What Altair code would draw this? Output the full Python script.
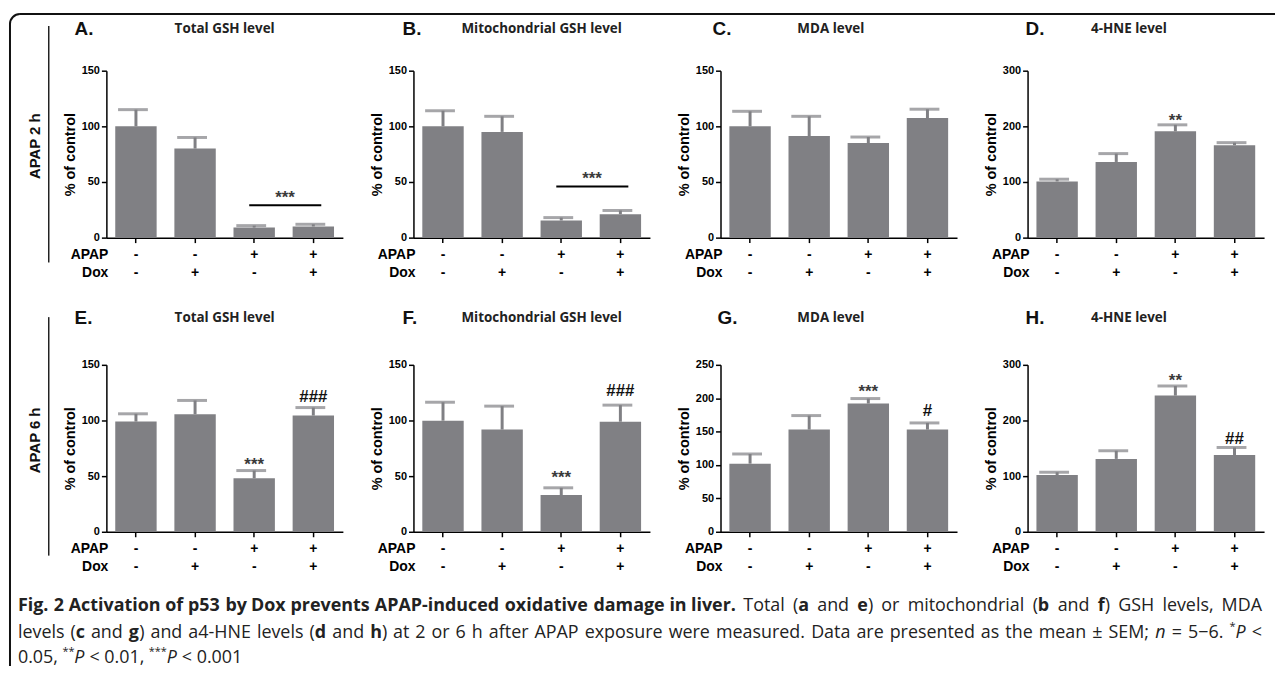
import altair as alt
import pandas as pd

# ---------------- data ----------------
groups = ["g1", "g2", "g3", "g4"]
apap_row = ["-", "-", "+", "+"]
dox_row = ["-", "+", "-", "+"]
factor_names = ["APAP", "Dox"]
row_labels = ["APAP 2 h", "APAP 6 h"]

letters = ["A.", "B.", "C.", "D.", "E.", "F.", "G.", "H."]
names = ["Total GSH level", "Mitochondrial GSH level", "MDA level", "4-HNE level",
         "Total GSH level", "Mitochondrial GSH level", "MDA level", "4-HNE level"]
y_max = [150, 150, 150, 300, 150, 150, 250, 300]
y_step = [50, 50, 50, 100, 50, 50, 50, 100]

mean_a = [100, 80, 9, 10]
top_a = [115, 90, 10.8, 12]
mean_b = [100, 95, 15.4, 21]
top_b = [114, 109, 18, 24.4]
mean_c = [100, 91.3, 85, 107.5]
top_c = [113.5, 109, 90.4, 115.4]
mean_d = [101, 136, 191, 166]
top_d = [105, 151, 202.7, 170.7]
mean_e = [99, 105.6, 48, 104.4]
top_e = [106, 118, 55, 111.6]
mean_f = [99.8, 91.8, 33, 98.9]
top_f = [116.4, 112.9, 39.5, 113.8]
mean_g = [102, 153, 192, 153]
top_g = [116.5, 174, 199.5, 163]
mean_h = [102, 131, 244.7, 138]
top_h = [107, 145.6, 262, 151.5]

means = [mean_a, mean_b, mean_c, mean_d, mean_e, mean_f, mean_g, mean_h]
tops = [top_a, top_b, top_c, top_d, top_e, top_f, top_g, top_h]

over_groups = [[], [], [], ["g3"], ["g3", "g4"], ["g3", "g4"], ["g3", "g4"], ["g3", "g4"]]
over_labels = [[], [], [], ["**"], ["***", "###"], ["***", "###"], ["***", "#"], ["**", "##"]]
over_pos = [[], [], [], [218], [64, 122], [52.7, 127], [216, 182.5], [280.6, 169]]
bracket_pos = [29, 46, None, None, None, None, None, None]
bracket_label_pos = [40, 57, None, None, None, None, None, None]

# caption text runs: (text, style)  b = bold, n = normal, i = italic, s = superscript
caption_heading = [("Fig. 2 Activation of p53 by Dox prevents APAP-induced oxidative damage in liver.", "b")]
caption_line1 = [("Total (", "n"), ("a", "b"), (" and ", "n"), ("e", "b"),
                 (") or mitochondrial (", "n"), ("b", "b"), (" and ", "n"), ("f", "b"),
                 (") GSH levels, MDA", "n")]
caption_line2 = [("levels (", "n"), ("c", "b"), (" and ", "n"), ("g", "b"),
                 (") and a4-HNE levels (", "n"), ("d", "b"), (" and ", "n"), ("h", "b"),
                 (") at 2 or 6 h after APAP exposure were measured. Data are presented as the mean \u00b1 SEM; ", "n"),
                 ("n", "i"), (" = 5\u22126. ", "n"), ("*", "s"), ("P", "i"), (" <", "n")]
caption_line3 = [("0.05, ", "n"), ("**", "s"), ("P", "i"), (" < 0.01, ", "n"),
                 ("***", "s"), ("P", "i"), (" < 0.001", "n")]

# ---------------- layout / style ----------------
W, H = 238, 168
BAR = "#808084"
FONT = "Liberation Sans"
TFONT = "Open Sans"
letter_dx = [-32, -11, -8, -2, -32, -11, -3, -2]
name_dx = [0, 10, -8, -17, 0, 10, -8, -17]
title_dy = [-42, -42, -42, -42, -47, -47, -47, -47]
sign_dy = [[186, 204], [185, 203]]
CAP_SIZE, SUP_SIZE = 18, 11
cap_line_y = [-53, -26, -1]

# approximate Open Sans advance widths (units per em = 2048)
ADV = {' ': 532, '(': 590, ')': 590, '*': 1120, ',': 502, '-': 659, '.': 545,
       ';': 545, '<': 1171, '=': 1171, '\u00b1': 1171, '\u2212': 1171,
       'A': 1296, 'D': 1493, 'F': 1057, 'G': 1491, 'H': 1511, 'M': 1849,
       'N': 1544, 'P': 1233, 'S': 1124, 'T': 1133, 'E': 1139,
       'a': 1139, 'b': 1255, 'c': 975, 'd': 1255, 'e': 1149, 'f': 694, 'g': 1122,
       'h': 1257, 'i': 518, 'j': 518, 'k': 1075, 'l': 518, 'm': 1905, 'n': 1257,
       'o': 1237, 'p': 1255, 'q': 1255, 'r': 836, 's': 977, 't': 723, 'u': 1257,
       'v': 1026, 'w': 1593, 'x': 1073, 'y': 1028, 'z': 977}
for _d in "0123456789":
    ADV[_d] = 1171
BOLD_EXTRA = {'i': 150, 't': 150, 'v': 150, 'l': 150, 'f': 120, 'r': 110,
              'a': 100, 'x': 110}


def text_width(t, style):
    size = SUP_SIZE if style == "s" else CAP_SIZE
    units = sum(ADV.get(c, 1100) for c in t)
    if style == "b":
        units += sum(BOLD_EXTRA.get(c, 80) for c in t)
    if style == "i":
        units *= 0.97
    return units / 2048 * size


def layout_line(runs, y, x0, x1, justify):
    items = []
    for text, style in runs:
        parts = text.split(" ")
        for k, part in enumerate(parts):
            if k > 0:
                items.append((" ", style, True))
            if part:
                items.append((part, style, False))
    nat = sum(text_width(" ", "n") if sp else text_width(t, st) for t, st, sp in items)
    nsp = sum(1 for it in items if it[2])
    extra = (x1 - x0 - nat) / nsp if (justify and nsp) else 0
    x, out = x0, []
    for t, st, sp in items:
        if sp:
            x += text_width(" ", "n") + extra
        else:
            out.append({"text": t, "style": st, "px": x,
                        "py": y - 6 if st == "s" else y})
            x += text_width(t, st)
    return out


def xenc(axis):
    return alt.X("group:N", sort=groups, title=None,
                 scale=alt.Scale(domain=groups, paddingInner=0.3, paddingOuter=0.15),
                 axis=axis)


def panel(i):
    r = i // 4
    df = pd.DataFrame({"group": groups, "mean": means[i], "top": tops[i]})
    yscale = alt.Scale(domain=[0, y_max[i]], nice=False)
    yaxis = alt.Axis(title="% of control",
                     values=list(range(0, y_max[i] + 1, y_step[i])))
    xaxis = alt.Axis(labels=False, title=None)
    base = alt.Chart(df)
    bars = base.mark_bar(color=BAR).encode(
        x=xenc(xaxis), y=alt.Y("mean:Q", scale=yscale, axis=yaxis))
    stems = base.mark_rule(color=BAR, strokeWidth=3).encode(
        x=xenc(xaxis), y=alt.Y("mean:Q", axis=yaxis), y2="top:Q")
    caps = base.mark_tick(color=BAR, thickness=3, size=30, xOffset=-3).encode(
        x=xenc(xaxis), y=alt.Y("top:Q", axis=yaxis))
    layers = [bars, stems, caps]

    if over_groups[i]:
        adf = pd.DataFrame({"group": over_groups[i], "label": over_labels[i],
                            "pos": over_pos[i]})
        stars = adf[adf["label"].str.contains(r"\*")]
        hashes = adf[adf["label"].str.contains("#")]
        if len(stars):
            layers.append(alt.Chart(stars).mark_text(
                font=FONT, fontSize=17, fontWeight="bold", color="#3a3a3a",
                baseline="middle", dy=5).encode(
                x=xenc(xaxis), y=alt.Y("pos:Q", axis=yaxis), text="label:N"))
        if len(hashes):
            layers.append(alt.Chart(hashes).mark_text(
                font=FONT, fontSize=17, fontWeight="bold", color="#111",
                baseline="middle", dy=1).encode(
                x=xenc(xaxis), y=alt.Y("pos:Q", axis=yaxis), text="label:N"))

    if bracket_pos[i] is not None:
        bdf = pd.DataFrame({"group": ["g3"], "group2": ["g4"],
                            "pos": [bracket_pos[i]], "lpos": [bracket_label_pos[i]],
                            "label": ["***"]})
        layers.append(alt.Chart(bdf).mark_rule(
            color="black", strokeWidth=2, xOffset=-5, x2Offset=8).encode(
            x=xenc(xaxis), x2="group2:N", y=alt.Y("pos:Q", axis=yaxis)))
        layers.append(alt.Chart(bdf).mark_text(
            font=FONT, fontSize=17, fontWeight="bold", color="#3a3a3a",
            baseline="middle", dy=5, dx=31).encode(
            x=xenc(xaxis), y=alt.Y("lpos:Q", axis=yaxis), text="label:N"))

    # treatment sign rows
    sdf = pd.DataFrame({"group": groups, "apap": apap_row, "dox": dox_row})
    srow = alt.Chart(sdf)
    layers.append(srow.mark_text(font=FONT, fontSize=14, fontWeight="bold",
                                 color="black", baseline="middle").encode(
        x=xenc(xaxis), y=alt.value(sign_dy[r][0]), text="apap:N"))
    layers.append(srow.mark_text(font=FONT, fontSize=14, fontWeight="bold",
                                 color="black", baseline="middle").encode(
        x=xenc(xaxis), y=alt.value(sign_dy[r][1]), text="dox:N"))
    fdf = pd.DataFrame({"factor": factor_names})
    fchart = alt.Chart(fdf)
    layers.append(fchart.transform_filter(alt.datum.factor == "APAP").mark_text(
        font=FONT, fontSize=14, fontWeight="bold", color="black",
        align="right", baseline="middle").encode(
        x=alt.value(2), y=alt.value(sign_dy[r][0]), text="factor:N"))
    layers.append(fchart.transform_filter(alt.datum.factor == "Dox").mark_text(
        font=FONT, fontSize=14, fontWeight="bold", color="black",
        align="right", baseline="middle").encode(
        x=alt.value(2), y=alt.value(sign_dy[r][1]), text="factor:N"))

    # panel letter and title
    tdf = pd.DataFrame({"letter": [letters[i]], "name": [names[i]]})
    tchart = alt.Chart(tdf)
    layers.append(tchart.mark_text(font=FONT, fontSize=19, fontWeight="bold",
                                   color="#111", align="left", baseline="middle").encode(
        x=alt.value(letter_dx[i]), y=alt.value(title_dy[i]), text="letter:N"))
    layers.append(tchart.mark_text(font=TFONT, fontSize=13.5, fontWeight="bold",
                                   color="#222", align="center", baseline="middle").encode(
        x=alt.value(W / 2 + name_dx[i]), y=alt.value(title_dy[i]), text="name:N"))

    return alt.layer(*layers).properties(width=W, height=H)


def row_label(r):
    ldf = pd.DataFrame({"label": [row_labels[r]]})
    base = alt.Chart(ldf)
    rule_span = [(-45, 193), (-48, 192)][r]
    layers = []
    if r == 0:
        # outer figure frame: top edge, left edge and rounded top-left corner
        layers.append(base.mark_rule(color="#111", strokeWidth=2).encode(
            x=alt.value(4), x2=alt.value(1267), y=alt.value(-57)))
        layers.append(base.mark_rule(color="#111", strokeWidth=2).encode(
            x=alt.value(-6), y=alt.value(-47), y2=alt.value(599)))
        layers.append(base.mark_arc(color="#111", innerRadius=9, outerRadius=11,
                                    theta=4.712389, theta2=6.2831853).encode(
            x=alt.value(4), y=alt.value(-47)))
    layers.append(base.mark_text(angle=270, font=FONT, fontSize=15, fontWeight="bold",
                                 color="#111", align="center", baseline="middle").encode(
        x=alt.value(19), y=alt.value(76), text="label:N"))
    layers.append(base.mark_rule(color="#222", strokeWidth=1.5).encode(
        x=alt.value(33), y=alt.value(rule_span[0]), y2=alt.value(rule_span[1])))
    return alt.layer(*layers).properties(width=20, height=H)


def caption():
    frags = (layout_line(caption_heading, cap_line_y[0], 2, 726, True)
             + layout_line(caption_line1, cap_line_y[0], 732, 1254, True)
             + layout_line(caption_line2, cap_line_y[1], 2, 1254, True)
             + layout_line(caption_line3, cap_line_y[2], 2, 1254, False))
    cdf = pd.DataFrame(frags)
    base = alt.Chart(cdf)
    enc = dict(x=alt.X("px:Q", scale=None, axis=None),
               y=alt.Y("py:Q", scale=None, axis=None), text="text:N")
    kw = dict(font=TFONT, color="#222", align="left", baseline="middle")
    return alt.layer(
        base.transform_filter(alt.datum.style == "n").mark_text(
            fontSize=CAP_SIZE, **kw).encode(**enc),
        base.transform_filter(alt.datum.style == "b").mark_text(
            fontSize=CAP_SIZE, fontWeight="bold", **kw).encode(**enc),
        base.transform_filter(alt.datum.style == "i").mark_text(
            fontSize=CAP_SIZE, fontStyle="italic", **kw).encode(**enc),
        base.transform_filter(alt.datum.style == "s").mark_text(
            fontSize=SUP_SIZE, **kw).encode(**enc),
    ).properties(width=20, height=1)


cells = [row_label(0)] + [panel(i) for i in range(4)] + \
        [row_label(1)] + [panel(i) for i in range(4, 8)] + [caption()]

chart = alt.concat(*cells, columns=5, bounds="flush", align="each",
                   spacing={"row": 128, "column": 71}).properties(
    padding={"left": 1, "top": 3, "right": 0, "bottom": 0}
).configure_view(stroke=None).configure_axis(
    grid=False, domainColor="black", domainWidth=1.5, tickColor="black",
    tickWidth=1.5, tickSize=5, labelFont=FONT, labelFontSize=11,
    labelFontWeight="bold", labelColor="black", labelPadding=2,
    titleFont=FONT, titleFontSize=14.5, titleFontWeight="bold", titleColor="black",
    titlePadding=4
)

chart.save("out.html", embed_options={"renderer": "svg", "actions": False})
